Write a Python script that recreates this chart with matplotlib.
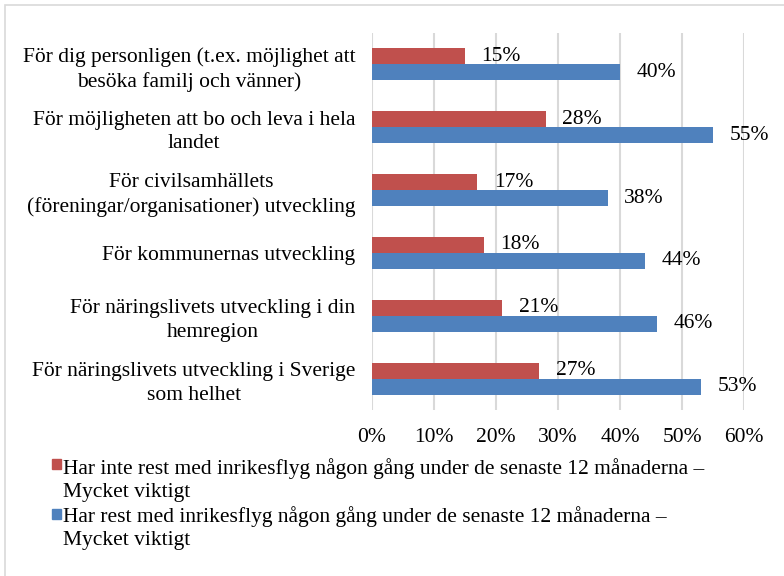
import matplotlib.pyplot as plt
import matplotlib.patches as mpatches
import numpy as np

plt.rcParams['font.family'] = ['Liberation Serif', 'DejaVu Serif']

categories = [
    'För dig personligen (t.ex. möjlighet att\nbesöka familj och vänner)',
    'För möjligheten att bo och leva i hela\nlandet',
    'För civilsamhällets\n(föreningar/organisationer) utveckling',
    'För kommunernas utveckling',
    'För näringslivets utveckling i din\nhemregion',
    'För näringslivets utveckling i Sverige\nsom helhet',
]
not_flown = [15, 28, 17, 18, 21, 27]
flown = [40, 55, 38, 44, 46, 53]
series_names = [
    'Har inte rest med inrikesflyg någon gång under de senaste 12 månaderna –\nMycket viktigt',
    'Har rest med inrikesflyg någon gång under de senaste 12 månaderna –\nMycket viktigt',
]
xticks = [0, 10, 20, 30, 40, 50, 60]

red = '#C0504D'
blue = '#4F81BD'
fs = 15.5
ls = 1.32

fig = plt.figure(figsize=(7.84, 5.76), dpi=100)
# outer chart frame
fig.patches.append(mpatches.Rectangle((5 / 784, -0.01), 1.0, 1 - 5 / 576 + 0.01,
                                      transform=fig.transFigure, fill=False,
                                      edgecolor='#d9d9d9', linewidth=1.2))

ax = fig.add_axes([372 / 784, 1 - 410 / 576, 372 / 784, 377 / 576])
y = np.arange(len(categories))
h = 0.255
b1 = ax.barh(y - h / 2, not_flown, height=h, color=red, zorder=3)
b2 = ax.barh(y + h / 2, flown, height=h, color=blue, zorder=3)
ax.bar_label(b1, labels=[f'{v}%' for v in not_flown], padding=12, fontsize=fs)
ax.bar_label(b2, labels=[f'{v}%' for v in flown], padding=12, fontsize=fs)

ax.set_xlim(0, 60)
ax.set_ylim(len(categories) - 0.5, -0.5)
ax.set_xticks(xticks)
ax.set_xticklabels([f'{t}%' for t in xticks], fontsize=fs)
ax.set_yticks(y)
ax.set_yticklabels(categories, fontsize=fs, ha='right', multialignment='center',
                   linespacing=ls)
ax.tick_params(axis='both', length=0)
ax.tick_params(axis='x', pad=13)
ax.tick_params(axis='y', pad=12)
ax.grid(axis='x', color='#d9d9d9', linewidth=1.5, zorder=0)
for s in ax.spines.values():
    s.set_visible(False)

# legend
square_y = [464, 514]
text_y = [469, 517]
for name, col, sy, ty in zip(series_names, [red, blue], square_y, text_y):
    fig.patches.append(mpatches.Rectangle((52 / 784, 1 - (sy + 5) / 576), 9 / 784, 10 / 576,
                                          transform=fig.transFigure, color=col))
    fig.text(63 / 784, 1 - (ty - 11) / 576, name, fontsize=fs, va='top', ha='left',
             linespacing=ls)

fig.savefig('out.png', dpi=100)
